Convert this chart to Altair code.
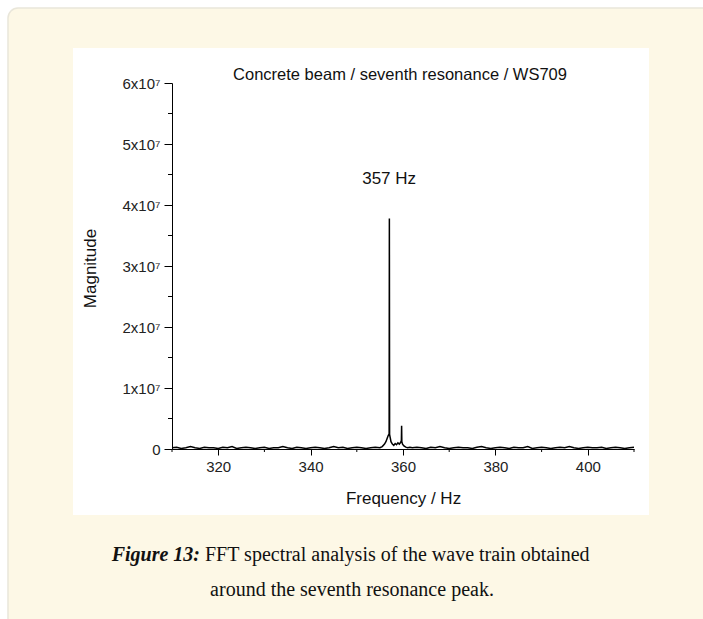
import altair as alt
import pandas as pd

# ---- data (magnitudes in units of 1e5) ----
noise_left = [2, 3, 1, 2, 4, 2, 1, 3, 2, 2,
              1, 3, 2, 4, 1, 2, 3, 2, 1, 2,
              3, 1, 2, 2, 4, 2, 1, 3, 2, 1,
              2, 3, 2, 1, 2, 4, 2, 3, 1, 2,
              3, 2, 1, 2, 3]                      # 310 .. 354 Hz
peak_freq = [355.0, 355.5, 356.0, 356.3, 356.6, 356.8, 357.0, 357.05, 357.1, 357.2,
             357.4, 357.7, 358.0, 358.3, 358.6, 358.9, 359.2, 359.5, 359.65, 359.7,
             359.75, 359.9, 360.2, 360.6, 361.0, 361.5]
peak_mag = [2, 4, 8, 12, 18, 22, 25, 378, 24, 20,
            12, 8, 6, 9, 7, 10, 8, 11, 14, 38,
            12, 8, 5, 3, 2, 3]
noise_right = [2, 3, 2, 1, 3, 2, 4, 2, 1, 2,
               3, 2, 2, 1, 3, 4, 2, 1, 2, 3,
               2, 1, 3, 2, 2, 4, 1, 2, 3, 2,
               1, 2, 3, 2, 4, 2, 1, 2, 3, 2,
               2, 3, 1, 2, 3, 2, 1, 2, 3]        # 362 .. 410 Hz

freq = list(range(310, 355)) + peak_freq + list(range(362, 411))
mag_e5 = noise_left + peak_mag + noise_right
df = pd.DataFrame({"freq": freq, "mag": [m * 1e5 for m in mag_e5]})

y_ticks = [0, 1e7, 2e7, 3e7, 4e7, 5e7, 6e7]
y_minor = [0.5e7, 1.5e7, 2.5e7, 3.5e7, 4.5e7, 5.5e7]
x_ticks = [320, 340, 360, 380, 400]
x_minor = [310, 330, 350, 370, 390, 410]

title_text = "Concrete beam / seventh resonance / WS709"
peak_label = "357 Hz"
caption_bold = "Figure 13:"
caption_rest = "FFT spectral analysis of the wave train obtained"
caption_line2 = "around the seventh resonance peak."

# ---- layout (plot area 172..634 x 83..449 in page px) ----
L, T, W, H = 172, 83, 462, 366
PW, PH = 703, 619

one = pd.DataFrame({"a": [0]})
SANS = "Liberation Sans"
SERIF = "Liberation Serif"

xs = alt.Scale(domain=[310, 410], nice=False, zero=False)
ys = alt.Scale(domain=[0, 6e7], nice=False)

cream = alt.Chart(one).mark_rect(
    color="#fdf8e6", stroke="#e9e6da", strokeWidth=1.5, cornerRadius=10
).encode(x=alt.value(8 - L), x2=alt.value(PW - L + 20),
         y=alt.value(8 - T), y2=alt.value(PH - T + 20))

white = alt.Chart(one).mark_rect(color="white").encode(
    x=alt.value(73 - L), x2=alt.value(649 - L),
    y=alt.value(48 - T), y2=alt.value(515 - T))

line = alt.Chart(df).mark_line(color="black", strokeWidth=1.5).encode(
    x=alt.X("freq:Q", scale=xs, axis=alt.Axis(
        values=x_ticks, title="Frequency / Hz", domainColor="black", tickColor="black",
        tickSize=6, labelPadding=4, labelFont=SANS, labelFontSize=15, labelColor="#222",
        titleFont=SANS, titleFontSize=17, titleFontWeight="normal", titleColor="#111",
        titleY=49, titleBaseline="middle", grid=False, zindex=1, labelFlush=False)),
    y=alt.Y("mag:Q", scale=ys, axis=alt.Axis(
        values=y_ticks, title="Magnitude", domainColor="black", tickColor="black",
        tickSize=8, labelPadding=4, labelFont=SANS, labelFontSize=15, labelColor="#222",
        labelExpr="datum.value == 0 ? '0' : format(datum.value / 1e7, 'd') + 'x10\u2077'",
        titleFont=SANS, titleFontSize=17, titleFontWeight="normal", titleColor="#111",
        titleX=90 - L, titleY=268 - T, titleAngle=270, titleBaseline="middle",
        titleAlign="center", grid=False, zindex=1, labelFlush=False)),
)

ymin = alt.Chart(pd.DataFrame({"v": y_minor})).mark_rule(color="black").encode(
    y=alt.Y("v:Q", scale=ys), x=alt.value(-4), x2=alt.value(0))
xmin = alt.Chart(pd.DataFrame({"v": x_minor})).mark_rule(color="black").encode(
    x=alt.X("v:Q", scale=xs), y=alt.value(H), y2=alt.value(H + 3))

peak_txt = alt.Chart(pd.DataFrame({"f": [357], "m": [4.43e7], "t": [peak_label]})).mark_text(
    font=SANS, fontSize=17, color="#111", baseline="middle", align="center"
).encode(x=alt.X("f:Q", scale=xs), y=alt.Y("m:Q", scale=ys), text="t:N")

title = alt.Chart(one).mark_text(
    text=title_text, font=SANS, fontSize=16.5, color="#111", baseline="middle", align="center"
).encode(x=alt.value(400 - L), y=alt.value(75 - T))

cap1a = alt.Chart(one).mark_text(
    text=caption_bold, font=SERIF, fontSize=20, fontWeight="bold", fontStyle="italic",
    color="#111", baseline="middle", align="right"
).encode(x=alt.value(200 - L), y=alt.value(555 - T))
cap1b = alt.Chart(one).mark_text(
    text=caption_rest, font=SERIF, fontSize=20, color="#111", baseline="middle", align="left"
).encode(x=alt.value(205 - L), y=alt.value(555 - T))
cap2 = alt.Chart(one).mark_text(
    text=caption_line2, font=SERIF, fontSize=20, color="#111", baseline="middle", align="center"
).encode(x=alt.value(352 - L), y=alt.value(590 - T))

chart = alt.layer(cream, white, line, ymin, xmin, peak_txt, title, cap1a, cap1b, cap2).properties(
    width=W, height=H,
    autosize=alt.AutoSizeParams(type="none"),
    padding={"left": L, "top": T, "right": PW - L - W, "bottom": PH - T - H},
    background="white",
).configure_view(stroke=None)

chart.save("out.html", embed_options={"renderer": "svg", "actions": False})
